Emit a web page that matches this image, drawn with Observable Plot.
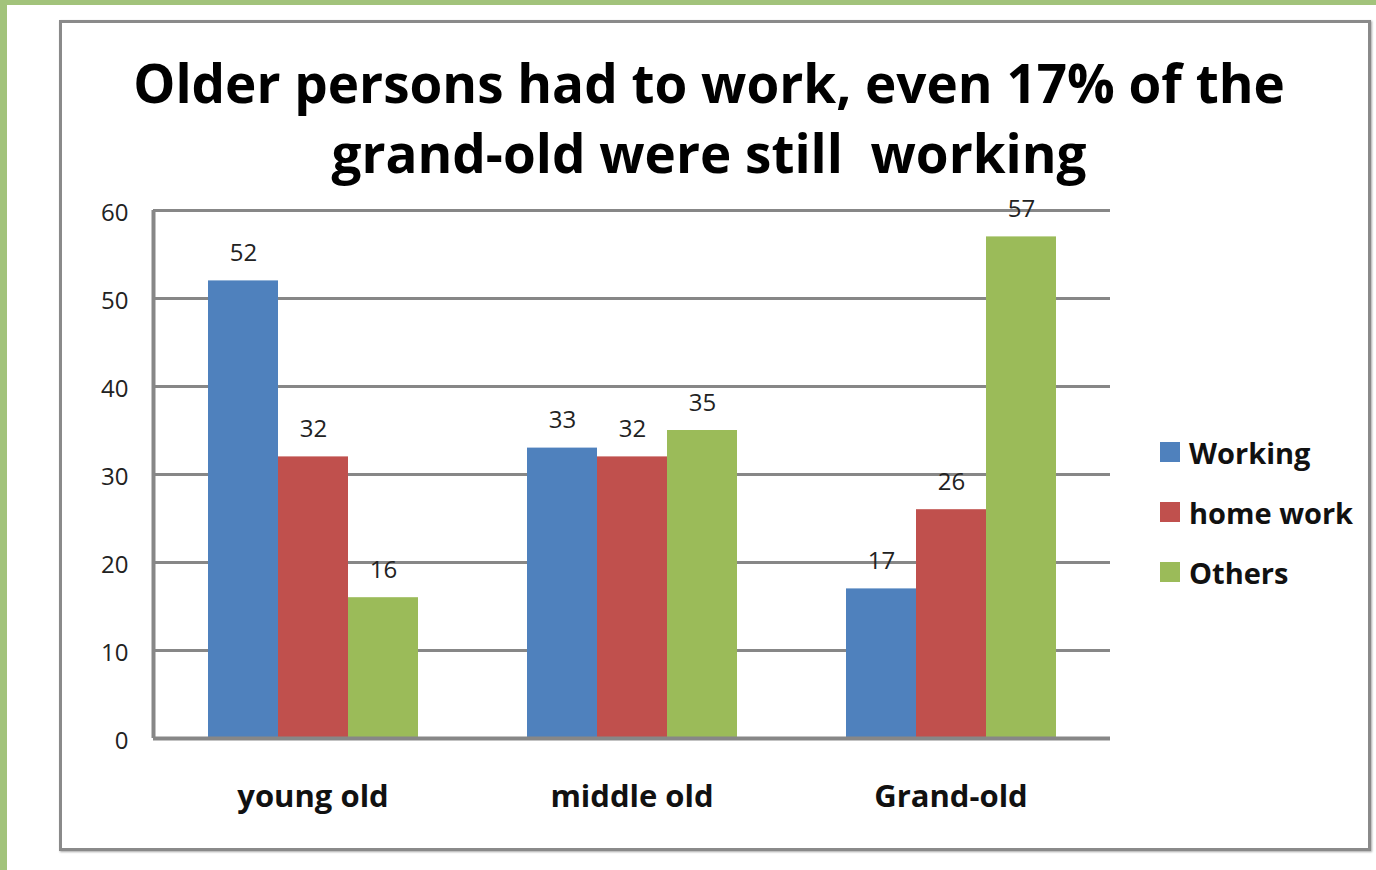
<!DOCTYPE html>
<html>
<head>
<meta charset="utf-8">
<script src="https://cdn.jsdelivr.net/npm/d3@7"></script>
<script src="https://cdn.jsdelivr.net/npm/@observablehq/plot@0.6"></script>
<style>
  html, body { margin: 0; padding: 0; background: #fff; }
  body { width: 1376px; height: 870px; position: relative; overflow: hidden; font-family: "Open Sans", sans-serif; }
  .layer { position: absolute; left: 0; top: 0; }
  .green-left { position: absolute; left: 0; top: 0; width: 7px; height: 870px; background: #a2c37b; }
  .green-top { position: absolute; left: 0; top: 0; width: 1376px; height: 5px; background: #a2c37b; }
  .frame { position: absolute; left: 59px; top: 20px; width: 1306px; height: 825px; border: 3px solid #8a8a8a; box-shadow: 1px 1px 2px rgba(0,0,0,0.35); }
  .title { position: absolute; left: 60px; width: 1298px; top: 48px; text-align: center; font-weight: bold; font-size: 53px; line-height: 70px; color: #000; white-space: pre; }
  .legend { position: absolute; left: 1160px; top: 422px; }
  .legend .item { display: flex; align-items: center; height: 60px; font-weight: bold; font-size: 29px; color: #111; }
  .legend .sw { width: 20px; height: 20px; margin-right: 9px; }
</style>
</head>
<body>
<div id="grid" class="layer"></div>
<div id="chart" class="layer"></div>
<div id="axisline" class="layer"></div>
<div class="green-left"></div>
<div class="green-top"></div>
<div class="frame"></div>
<div class="title" id="title"></div>
<div class="legend" id="legend"></div>
<script>
const titleLines = ["Older persons had to work, even 17% of the", "grand-old were still  working"];
const categories = ["young old", "middle old", "Grand-old"];
const series = ["Working", "home work", "Others"];
const working = [52, 33, 17];
const homeWork = [32, 32, 26];
const others = [16, 35, 57];
const yTicks = [0, 10, 20, 30, 40, 50, 60];
const colors = ["#4F81BD", "#C0504D", "#9BBB59"];

const seriesValues = [working, homeWork, others];
const data = categories.flatMap((c, i) =>
  series.map((s, j) => ({category: c, series: s, value: seriesValues[j][i]}))
);

document.getElementById("title").textContent = titleLines.join("\n");

const legend = document.getElementById("legend");
series.forEach((s, j) => {
  const item = document.createElement("div");
  item.className = "item";
  const sw = document.createElement("div");
  sw.className = "sw";
  sw.style.background = colors[j];
  const lab = document.createElement("span");
  lab.textContent = s;
  item.appendChild(sw);
  item.appendChild(lab);
  legend.appendChild(item);
});

const gridColor = "#878787";
const dims = {width: 1376, height: 870, marginLeft: 153, marginRight: 266, marginTop: 210, marginBottom: 132};
const font = "'Open Sans', sans-serif";

// background layer: gridlines and y tick labels (unfaceted, spans the whole plot area)
const grid = Plot.plot({
  ...dims,
  style: {background: "transparent", fontFamily: font, color: "#222"},
  x: {domain: [0, 1], axis: null},
  y: {domain: [0, 60], axis: null},
  marks: [
    Plot.ruleY(yTicks, {stroke: gridColor, strokeWidth: 3}),
    Plot.axisY({ticks: yTicks, tickSize: 0, tickPadding: 25, dy: 3, fontSize: 24, fill: "#222", label: null})
  ]
});
document.getElementById("grid").appendChild(grid);

// foreground layer: grouped bars through fx facets
const chart = Plot.plot({
  ...dims,
  style: {background: "transparent", fontFamily: font, color: "#222"},
  fx: {domain: categories, paddingInner: 0.34, paddingOuter: 0.17, label: null},
  x: {domain: series, padding: 0, axis: null},
  y: {domain: [0, 60], axis: null},
  color: {domain: series, range: colors},
  marks: [
    Plot.barY(data, {fx: "category", x: "series", y: "value", fill: "series"}),
    Plot.text(data, {fx: "category", x: "series", y: "value", text: d => String(d.value), lineAnchor: "bottom", dy: -20, fontSize: 24, fill: "#222"}),
    Plot.axisFx({anchor: "bottom", tickSize: 0, tickPadding: 46, fontSize: 31, fontWeight: "bold", fill: "#111", label: null})
  ]
});
document.getElementById("chart").appendChild(chart);

// axis lines (left and baseline), drawn over the bars
const axisLine = Plot.plot({
  ...dims,
  style: {background: "transparent"},
  x: {domain: [0, 1], axis: null},
  y: {domain: [0, 60], axis: null},
  marks: [
    Plot.ruleX([0], {y1: 0, y2: 60, stroke: gridColor, strokeWidth: 4}),
    Plot.ruleY([0], {stroke: gridColor, strokeWidth: 4})
  ]
});
document.getElementById("axisline").appendChild(axisLine);
</script>
</body>
</html>
